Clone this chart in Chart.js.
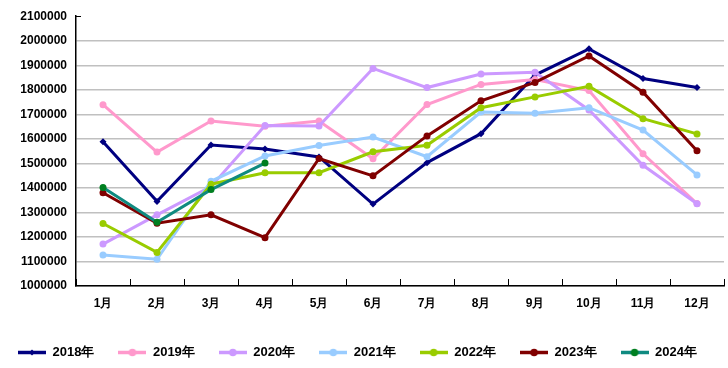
<!DOCTYPE html>
<html>
<head>
<meta charset="utf-8">
<script src="https://cdn.jsdelivr.net/npm/chart.js@4.4.1/dist/chart.umd.min.js"></script>
<style>
  html, body { margin: 0; padding: 0; background: #fff; }
  #box { width: 728px; height: 368px; }
</style>
</head>
<body>
<div id="box"><canvas id="myChart"></canvas></div>
<script>
const months = ['1月', '2月', '3月', '4月', '5月', '6月', '7月', '8月', '9月', '10月', '11月', '12月'];
const years = ['2018年', '2019年', '2020年', '2021年', '2022年', '2023年', '2024年'];
const y2018 = [1588000, 1345000, 1575000, 1559000, 1526000, 1334000, 1503000, 1621000, 1860000, 1967000, 1846000, 1809000];
const y2019 = [1739000, 1546000, 1673000, 1651000, 1673000, 1519000, 1740000, 1822000, 1842000, 1797000, 1539000, 1336000];
const y2020 = [1171000, 1290000, 1405000, 1654000, 1652000, 1887000, 1809000, 1864000, 1871000, 1718000, 1492000, 1335000];
const y2021 = [1126000, 1109000, 1427000, 1530000, 1573000, 1607000, 1527000, 1709000, 1704000, 1727000, 1636000, 1453000];
const y2022 = [1255000, 1137000, 1415000, 1462000, 1462000, 1547000, 1574000, 1727000, 1771000, 1814000, 1682000, 1620000];
const y2023 = [1380000, 1256000, 1290000, 1197000, 1520000, 1449000, 1612000, 1755000, 1830000, 1938000, 1790000, 1551000];
const y2024 = [1402000, 1260000, 1393000, 1501000];
const series = [y2018, y2019, y2020, y2021, y2022, y2023, y2024];
const lineColors = ['#000080', '#ff99cc', '#cc99ff', '#99ccff', '#99cc00', '#800000', '#0f8a80'];
const pointColors = ['#000080', '#ff99cc', '#cc99ff', '#99ccff', '#99cc00', '#800000', '#007f20'];
const pointStyles = ['rectRot', 'circle', 'circle', 'circle', 'circle', 'circle', 'circle'];

function legendIcon(i) {
  const c = document.createElement('canvas');
  c.width = 28;
  c.height = 9;
  const g = c.getContext('2d');
  g.strokeStyle = lineColors[i];
  g.lineWidth = 3.5;
  g.beginPath();
  g.moveTo(0, 4.5);
  g.lineTo(28, 4.5);
  g.stroke();
  g.fillStyle = pointColors[i];
  g.beginPath();
  if (pointStyles[i] === 'rectRot') {
    g.moveTo(14, 1.5);
    g.lineTo(17, 4.5);
    g.lineTo(14, 7.5);
    g.lineTo(11, 4.5);
  } else {
    g.arc(14, 4.5, 3.8, 0, Math.PI * 2);
  }
  g.fill();
  return c;
}

const icons = years.map((y, i) => legendIcon(i));

// inward tick marks like the original
const innerTicks = {
  id: 'innerTicks',
  afterDatasetsDraw(chart) {
    const ctx = chart.ctx;
    const x = chart.scales.x;
    const y = chart.scales.y;
    const step = x.getPixelForValue(1) - x.getPixelForValue(0);
    ctx.save();
    ctx.strokeStyle = '#000';
    ctx.lineWidth = 1;
    ctx.beginPath();
    for (let i = 0; i <= months.length; i++) {
      const px = Math.round(x.getPixelForValue(0) - step / 2 + i * step) + 0.5;
      ctx.moveTo(px, y.bottom);
      ctx.lineTo(px, y.bottom - 7);
    }
    const py = Math.round(y.getPixelForValue(y.max)) + 0.5;
    ctx.moveTo(x.left, py);
    ctx.lineTo(x.left + 5, py);
    ctx.stroke();
    ctx.restore();
  }
};

const ctx = document.getElementById('myChart');
new Chart(ctx, {
  type: 'line',
  data: {
    labels: months,
    datasets: series.map((data, i) => ({
      label: years[i],
      data: data,
      borderColor: lineColors[i],
      backgroundColor: pointColors[i],
      pointBackgroundColor: pointColors[i],
      pointBorderColor: pointColors[i],
      pointStyle: pointStyles[i],
      pointRadius: 3.5,
      pointBorderWidth: 0,
      borderWidth: 3,
      tension: 0,
      order: series.length - i
    }))
  },
  options: {
    responsive: true,
    maintainAspectRatio: false,
    animation: false,
    layout: {
      padding: { left: -6, right: 2, top: 12, bottom: -1 }
    },
    plugins: {
      tooltip: { enabled: false },
      legend: {
        position: 'bottom',
        align: 'start',
        labels: {
          usePointStyle: true,
          pointStyleWidth: 28,
          padding: 24,
          color: '#000',
          font: { family: 'Liberation Sans', size: 13, weight: 'bold' },
          generateLabels(chart) {
            return chart.data.datasets.map((ds, i) => ({
              text: ds.label,
              pointStyle: icons[i],
              fillStyle: lineColors[i],
              strokeStyle: lineColors[i],
              lineWidth: 0,
              fontColor: '#000',
              hidden: false,
              datasetIndex: i
            }));
          }
        }
      }
    },
    scales: {
      x: {
        offset: true,
        border: { color: '#000', width: 1.5 },
        grid: { display: false, drawTicks: false },
        ticks: {
          color: '#000',
          padding: 10,
          maxRotation: 0,
          font: { family: 'Liberation Sans', size: 12, weight: 'bold' }
        },
        afterFit(scale) { scale.height = 36; }
      },
      y: {
        min: 1000000,
        max: 2100000,
        border: { color: '#000', width: 1.5 },
        grid: {
          drawTicks: false,
          color: (c) => (c.tick && c.tick.value === 2100000 ? 'rgba(0,0,0,0)' : '#c0c0c0'),
          lineWidth: 1.5
        },
        ticks: {
          stepSize: 100000,
          color: '#000',
          padding: 9,
          font: { family: 'Liberation Sans', size: 12, weight: 'bold' },
          callback: (v) => String(v)
        },
        afterFit(scale) { scale.width = 82; }
      }
    }
  },
  plugins: [innerTicks]
});
</script>
</body>
</html>
